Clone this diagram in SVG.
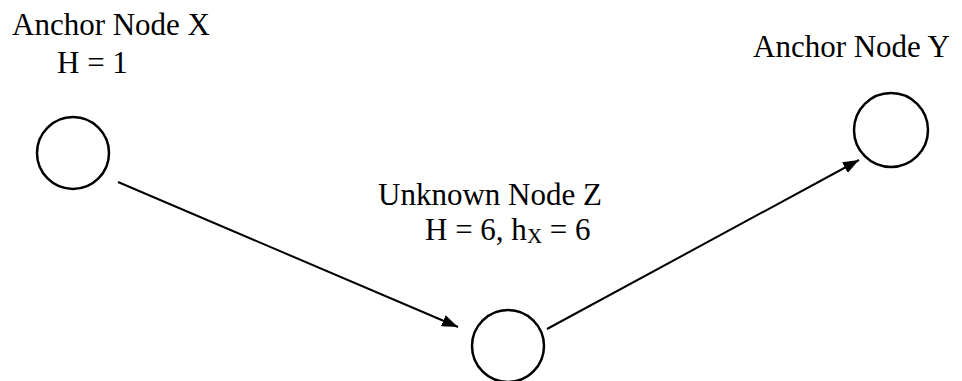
<svg xmlns="http://www.w3.org/2000/svg" width="962" height="381" viewBox="0 0 962 381">
<style>
.node{fill:none;stroke:#000;stroke-width:2.5}
.lbl{font-family:"Liberation Serif","Times New Roman",serif;font-size:31px;fill:#000}
.edge{stroke:#000;stroke-width:2;fill:none}
</style>
<defs>
<marker id="ah" viewBox="0 0 16 12" refX="16" refY="6" markerWidth="16" markerHeight="12" markerUnits="userSpaceOnUse" orient="auto">
<path d="M0,0 L16,6 L0,12 Z" fill="#000"/>
</marker>
</defs>
<rect width="962" height="381" fill="#fff"/>
<g id="nodeX">
<circle class="node" cx="73" cy="153" r="36"/>
<text class="lbl" x="12" y="35">Anchor Node X</text>
<text class="lbl" x="57" y="73">H = 1</text>
</g>
<g id="nodeZ">
<circle class="node" cx="508" cy="346" r="36"/>
<text class="lbl" x="378" y="205">Unknown Node Z</text>
<text class="lbl" x="425" y="240">H = 6, h<tspan font-size="21" dy="3">X</tspan><tspan dy="-3"> = 6</tspan></text>
</g>
<g id="nodeY">
<circle class="node" cx="891" cy="130" r="37"/>
<text class="lbl" x="753" y="57">Anchor Node Y</text>
</g>
<g id="connectors">
<line class="edge" x1="118" y1="182" x2="458" y2="327" marker-end="url(#ah)"/>
<line class="edge" x1="547" y1="329" x2="859" y2="160" marker-end="url(#ah)"/>
</g>
</svg>
